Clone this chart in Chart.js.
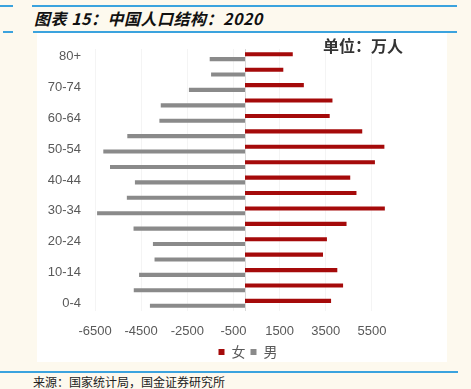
<!DOCTYPE html>
<html>
<head>
<meta charset="utf-8">
<script src="https://cdn.jsdelivr.net/npm/chart.js@4.4.1/dist/chart.umd.min.js"></script>
<style>
  html, body { margin: 0; padding: 0; }
  body { width: 471px; height: 389px; background: #fdf9ee; position: relative; overflow: hidden; font-family: "Noto Sans CJK SC", sans-serif; }
  .hl { position: absolute; height: 2px; background: #3ba3de; }
  #title { position: absolute; left: 34px; top: 6px; font-size: 16px; font-weight: bold; font-style: italic; color: #111; letter-spacing: 0.5px; white-space: nowrap; }
  #box { position: absolute; left: 37px; top: 33px; width: 410px; height: 329px; background: #fff; }
  #unit { position: absolute; left: 323px; top: 33px; font-size: 16px; font-weight: bold; color: #333; white-space: nowrap; }
  #src { position: absolute; left: 33px; top: 373px; font-size: 12px; color: #222; white-space: nowrap; }
</style>
</head>
<body>
<div class="hl" style="left:0;top:5px;width:13px;"></div>
<div class="hl" style="left:32px;top:5px;width:425px;"></div>
<div id="title">图表 15：中国人口结构：2020</div>
<div class="hl" style="left:3px;top:31px;width:10px;"></div>
<div class="hl" style="left:33px;top:31px;width:424px;"></div>
<div id="box"><canvas id="c" width="410" height="329"></canvas></div>
<div id="unit">单位：万人</div>
<div class="hl" style="left:0;top:371px;width:458px;"></div>
<div id="src">来源：国家统计局，国金证券研究所</div>
<script>
const ageGroups = ['0-4','5-9','10-14','15-19','20-24','25-29','30-34','35-39','40-44','45-49','50-54','55-59','60-64','65-69','70-74','75-79','80+'];
const female = [3730, 4250, 4000, 3380, 3550, 4400, 6060, 4830, 4560, 5630, 6040, 5080, 3670, 3790, 2550, 1660, 2070];
const male = [-4120, -4820, -4590, -3920, -3990, -4830, -6410, -5120, -4770, -5850, -6140, -5100, -3710, -3650, -2430, -1470, -1530];
const xTicks = [-6500, -4500, -2500, -500, 1500, 3500, 5500];
const seriesNames = ['女', '男'];

const zeroLine = {
  id: 'zeroLine',
  beforeDatasetsDraw(chart) {
    const x = chart.scales.x.getPixelForValue(0);
    const a = chart.chartArea;
    const ctx = chart.ctx;
    ctx.save();
    ctx.strokeStyle = '#d9d9d9';
    ctx.lineWidth = 1;
    ctx.beginPath();
    ctx.moveTo(Math.round(x) + 0.5, a.top);
    ctx.lineTo(Math.round(x) + 0.5, a.bottom);
    ctx.stroke();
    ctx.restore();
  }
};

const legendShift = {
  id: 'legendShift',
  afterLayout(chart) {
    const lg = chart.legend;
    if (lg) { lg.left += 32; lg.right += 32; lg.top -= 2; lg.bottom -= 2; }
  }
};

new Chart(document.getElementById('c'), {
  type: 'bar',
  data: {
    labels: ageGroups,
    datasets: [
      { label: seriesNames[0], data: female, backgroundColor: '#a50a0a' },
      { label: seriesNames[1], data: male, backgroundColor: '#8a8a8a' }
    ]
  },
  options: {
    indexAxis: 'y',
    responsive: false,
    animation: false,
    categoryPercentage: 0.62,
    barPercentage: 0.86,
    layout: { padding: { left: 0, right: 52, top: 16, bottom: 0 } },
    scales: {
      x: {
        min: -6500, max: 6500,
        afterBuildTicks: s => { s.ticks = xTicks.map(v => ({ value: v })); },
        afterFit: s => { s.height = 31; },
        grid: { color: '#f4f4f4', drawTicks: false },
        border: { display: false },
        ticks: {
          padding: 13, color: '#595959', font: { family: 'Liberation Sans', size: 13 },
          maxRotation: 0, autoSkip: false,
          callback: v => String(v)
        }
      },
      y: {
        reverse: true,
        afterFit: s => { s.width = 58; s.paddingTop = 0; s.paddingBottom = 0; },
        grid: { display: false, drawTicks: false },
        border: { display: false },
        ticks: {
          autoSkip: false, padding: 14, color: '#595959',
          font: { family: 'Liberation Sans', size: 13 },
          callback: (v, i) => (i % 2 === 0 ? ageGroups[i] : '')
        }
      }
    },
    plugins: {
      legend: {
        position: 'bottom',
        maxHeight: 20,
        labels: { boxWidth: 6, boxHeight: 6, padding: 5, color: '#595959', font: { family: 'Noto Sans CJK SC', size: 14 } }
      },
      tooltip: { enabled: false }
    }
  },
  plugins: [zeroLine, legendShift]
});
</script>
</body>
</html>
